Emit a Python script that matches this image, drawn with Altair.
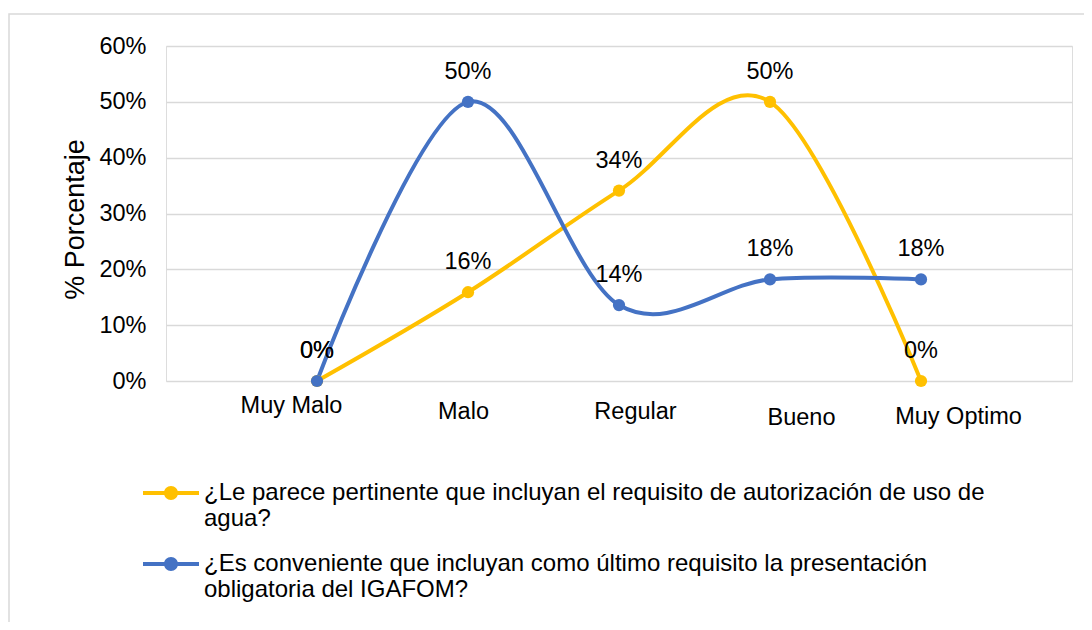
import altair as alt
import pandas as pd

categories = ["Muy Malo", "Malo", "Regular", "Bueno", "Muy Optimo"]
series_names = [
    "¿Le parece pertinente que incluyan el requisito de autorización de uso de\nagua?",
    "¿Es conveniente que incluyan como último requisito la presentación\nobligatoria del IGAFOM?",
]
values_autorizacion = [0.0, 0.159, 0.341, 0.5, 0.0]
values_igafom = [0.0, 0.5, 0.136, 0.182, 0.182]
series_colors = ["#FFC000", "#4472C4"]
y_ticks = [0.0, 0.1, 0.2, 0.3, 0.4, 0.5, 0.6]

rows = []
for s_idx, vals in enumerate([values_autorizacion, values_igafom]):
    for i, c in enumerate(categories):
        rows.append({"categoria": c, "serie": series_names[s_idx], "valor": vals[i], "idx": i})
df = pd.DataFrame(rows)

FONT = "Liberation Sans"
LABEL_SIZE = 23.5

# legend symbol: a short line with a dot in the middle
sym = ("M-1,-0.07 L1,-0.07 L1,0.07 L-1,0.07 Z "
       "M-0.25,0 A0.25,0.25 0 1,1 0.25,0 A0.25,0.25 0 1,1 -0.25,0 Z")

# the category labels in the original sit slightly off their ticks
x_label_offset = ("datum.value == 'Muy Malo' ? -26 : datum.value == 'Malo' ? -5 : "
                  "datum.value == 'Regular' ? 16 : datum.value == 'Bueno' ? 31 : 37")
x_label_padding = ("datum.value == 'Muy Malo' ? 12 : datum.value == 'Malo' ? 18 : "
                   "datum.value == 'Regular' ? 18 : datum.value == 'Bueno' ? 24 : 23")

x_enc = alt.X(
    "categoria:N",
    sort=categories,
    scale=alt.Scale(type="point", padding=1),
    axis=alt.Axis(
        title=None, domain=False, ticks=False, grid=False,
        labelFont=FONT, labelFontSize=LABEL_SIZE, labelColor="#000000",
        labelPadding={"expr": x_label_padding}, labelOffset={"expr": x_label_offset},
        labelAngle=0,
    ),
)
y_enc = alt.Y(
    "valor:Q",
    scale=alt.Scale(domain=[0, 0.6], nice=False, zero=True),
    axis=alt.Axis(
        values=y_ticks, format=".0%", domain=False, ticks=False,
        grid=True, gridColor="#d9d9d9", gridWidth=1.5,
        labelFont=FONT, labelFontSize=LABEL_SIZE, labelColor="#000000", labelPadding=20,
        title="% Porcentaje", titleFont=FONT, titleFontSize=27, titleFontWeight="normal",
        titleColor="#000000", titleAngle=-90, titleAlign="center", titleBaseline="middle",
        titleX=-91, titleY=173,
    ),
)
color_scale = alt.Scale(domain=series_names, range=series_colors)
legend = alt.Legend(
    title=None, orient="none", legendX=-23, legendY=419, direction="vertical",
    symbolType=sym, symbolSize=3136, symbolStrokeWidth=0,
    labelFont=FONT, labelFontSize=24, labelColor="#000000", labelLimit=1000,
    labelOffset=5, rowPadding=5, padding=0, labelBaseline="middle",
    labelExpr="split(datum.label, '\\n')",
)

base = alt.Chart(df)

border = alt.Chart(pd.DataFrame({"k": [0]})).mark_rect(
    fill="transparent", stroke="#d9d9d9", strokeWidth=1.5
).encode(x=alt.value(-157), x2=alt.value(940), y=alt.value(-32), y2=alt.value(600))

lines = base.mark_line(interpolate="cardinal", strokeWidth=4, strokeCap="round").encode(
    x=x_enc, y=y_enc,
    color=alt.Color("serie:N", scale=color_scale, legend=legend, sort=series_names),
    order=alt.Order("idx:Q"),
)
points = base.mark_point(filled=True, size=150, opacity=1).encode(
    x=x_enc, y=y_enc,
    color=alt.Color("serie:N", scale=color_scale, legend=legend, sort=series_names),
)
labels = base.mark_text(
    dy=-30, baseline="middle", align="center", font=FONT, fontSize=LABEL_SIZE, color="#000000"
).encode(
    x=x_enc, y=y_enc,
    text=alt.Text("valor:Q", format=".0%"),
)

chart = alt.layer(border, lines, points, labels).properties(
    width=906, height=335,
    autosize=alt.AutoSizeParams(type="none"),
    padding={"left": 158, "top": 38, "right": 12, "bottom": 241},
).configure_view(stroke="transparent", strokeWidth=0).configure(background="white")

chart.save("out.html", embed_options={"renderer": "svg", "actions": False})
